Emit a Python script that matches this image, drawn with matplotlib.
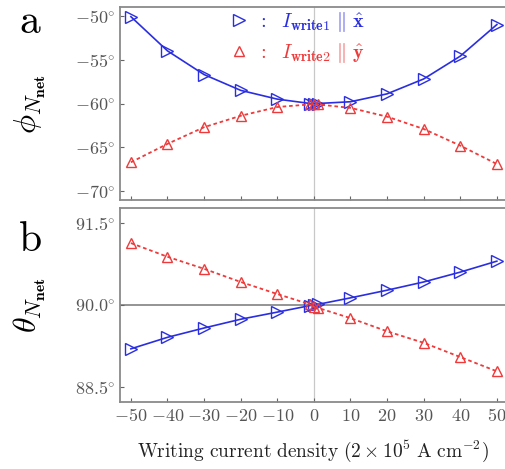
import numpy as np
import matplotlib.pyplot as plt
from matplotlib.lines import Line2D

plt.rcParams['mathtext.fontset'] = 'cm'
plt.rcParams['font.family'] = 'serif'
plt.rcParams['font.serif'] = ['DejaVu Serif']

# writing current density (units of 2e5 A/cm^2)
current = [-50, -40, -30, -20, -10, -1, 0, 1, 10, 20, 30, 40, 50]

# phi of N_net (deg)
phi_x = [-50.1, -54.0, -56.7, -58.5, -59.5, -60.0, -60.0, -60.0, -59.8, -58.9, -57.2, -54.6, -51.0]
phi_y = [-66.7, -64.6, -62.7, -61.4, -60.4, -60.1, -60.1, -60.1, -60.5, -61.5, -62.9, -64.8, -66.9]

# theta of N_net (deg)
theta_x = [89.20, 89.41, 89.58, 89.74, 89.87, 89.99, 90.0, 90.01, 90.13, 90.27, 90.42, 90.60, 90.80]
theta_y = [91.13, 90.88, 90.66, 90.42, 90.20, 90.01, 89.96, 89.95, 89.76, 89.52, 89.31, 89.05, 88.79]

phi_ticks = [-50, -55, -60, -65, -70]
theta_ticks = [88.5, 90.0, 91.5]
x_ticks = [-50, -40, -30, -20, -10, 0, 10, 20, 30, 40, 50]

blue = '#2a2ee0'
red = '#ee3a3a'
frame = '#8a8a8a'
ticklab = '#555555'
red_dash = (0, (2, 1.6))

fig = plt.figure(figsize=(5.06, 4.69), dpi=100)
ax1 = fig.add_axes([0.237, 0.5736, 0.763, 0.4114])
ax2 = fig.add_axes([0.237, 0.1429, 0.763, 0.4136])

for ax in (ax1, ax2):
    ax.axvline(0, color='#c8c8c8', lw=0.9, zorder=0)
    for s in ('left', 'bottom', 'top'):
        ax.spines[s].set_color(frame)
        ax.spines[s].set_linewidth(1.3)
    ax.spines['right'].set_visible(False)
    ax.set_xlim(-53, 52.5)
    ax.set_xticks(x_ticks)
    ax.tick_params(direction='in', length=3, width=0.8, color='#666666',
                   labelsize=13, labelcolor=ticklab, top=False, right=False)

ax2.axhline(90, color='#777777', lw=1.1, zorder=0)

ax1.plot(current, phi_x, '-', color=blue, lw=1.2, marker='>', ms=8,
         mfc='none', mec=blue, mew=1.0)
ax1.plot(current, phi_y, ls=red_dash, color=red, lw=1.3, marker='^', ms=7,
         mfc='none', mec=red, mew=1.0)
ax2.plot(current, theta_x, '-', color=blue, lw=1.2, marker='>', ms=8,
         mfc='none', mec=blue, mew=1.0)
ax2.plot(current, theta_y, ls=red_dash, color=red, lw=1.3, marker='^', ms=7,
         mfc='none', mec=red, mew=1.0)

ax1.set_ylim(-71, -49)
ax1.set_yticks(phi_ticks)
ax1.set_yticklabels([r'$%d\!^\circ$' % v for v in phi_ticks])
ax1.set_xticklabels([])

ax2.set_ylim(88.23, 91.77)
ax2.set_yticks(theta_ticks)
ax2.set_yticklabels([r'$%.1f\!^\circ$' % v for v in theta_ticks])
ax2.set_xticklabels([r'$%d$' % v for v in x_ticks])

ax1.set_ylabel(r'$\phi_{N_{\mathbf{net}}}$', fontsize=23)
ax2.set_ylabel(r'$\theta_{N_{\mathbf{net}}}$', fontsize=23)
ax1.yaxis.set_label_coords(-0.185, 0.5)
ax2.yaxis.set_label_coords(-0.185, 0.5)
ax2.set_xlabel(r'$\mathrm{Writing\ current\ density}\ (2\times10^5\ \mathrm{A\ cm^{-2}})$',
               fontsize=14, color='#222222', labelpad=10)

fig.text(0.06, 0.955, r'$\mathrm{a}$', fontsize=30, ha='center', va='center')
fig.text(0.06, 0.49, r'$\mathrm{b}$', fontsize=30, ha='center', va='center')

handles = [Line2D([], [], ls='none', marker='>', ms=8, mfc='none', mec=blue, mew=1.0),
           Line2D([], [], ls='none', marker='^', ms=7, mfc='none', mec=red, mew=1.0)]
labels = [r'$:\ \ I_{\mathbf{write1}}\ \Vert\ \hat{\mathbf{x}}$',
          r'$:\ \ I_{\mathbf{write2}}\ \Vert\ \hat{\mathbf{y}}$']
leg = ax1.legend(handles, labels, loc='upper left', bbox_to_anchor=(0.24, 1.08),
                 frameon=False, handlelength=0.8, handletextpad=0.5,
                 labelspacing=0.35, fontsize=14.5)
for t, c in zip(leg.get_texts(), (blue, red)):
    t.set_color(c)

fig.savefig('out.png', dpi=100)
